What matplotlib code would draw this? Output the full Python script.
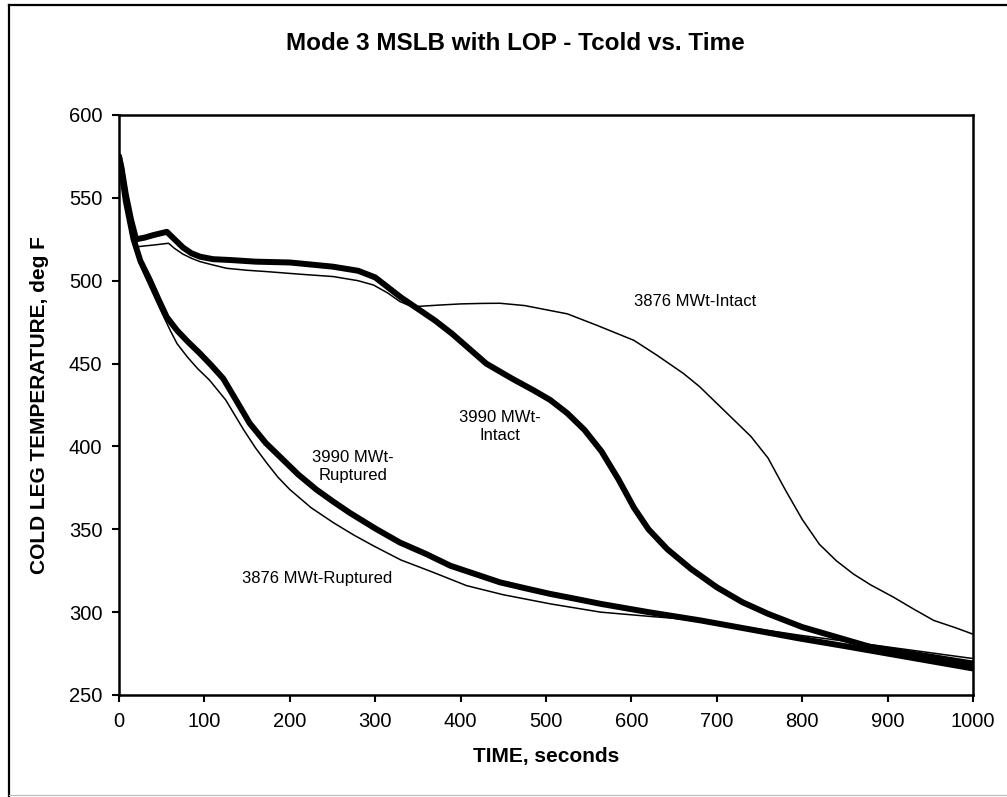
import matplotlib
matplotlib.use("Agg")
import matplotlib.pyplot as plt
from matplotlib.lines import Line2D

plt.rcParams['font.family'] = ['Liberation Sans', 'DejaVu Sans']

# ---- data ----
t_3990_intact = [0, 3, 8, 14, 20, 30, 40, 56, 65, 75, 85, 95, 110, 130, 160, 200, 250, 280, 300,
                 315, 330, 350, 370, 390, 410, 430, 460, 485, 505, 525, 545, 565, 585, 603, 620,
                 642, 670, 700, 730, 760, 800, 840, 880, 940, 1000]
T_3990_intact = [575, 568, 552, 537, 525, 526, 527.5, 529.5, 525, 520, 516.5, 514.5, 513, 512.5,
                 511.5, 511, 508.5, 506, 502, 496, 490, 483, 476, 468, 459, 450, 441, 434, 428,
                 420, 410, 397, 380, 363, 350, 338, 326, 315, 306, 299, 291, 285, 279, 274, 269]

t_3876_intact = [0, 3, 8, 14, 22, 30, 40, 58, 65, 75, 85, 95, 110, 126, 150, 173, 210, 251, 280,
                 298, 315, 329, 340, 350, 375, 400, 425, 446, 475, 500, 525, 560, 603, 630, 661,
                 680, 700, 720, 740, 760, 780, 800, 820, 840, 860, 880, 907, 930, 954, 980, 1000]
T_3876_intact = [572, 566, 550, 535, 520.5, 521, 521.5, 522.6, 519.5, 516, 513.5, 511.5, 509.5,
                 507.5, 506.3, 505.5, 504, 502.5, 500, 497.4, 492.5, 487.4, 485, 484.5, 485.3,
                 486, 486.3, 486.4, 485, 482.5, 480, 473, 464, 455, 444, 436, 426, 416, 406, 393,
                 374, 356, 341, 331, 323, 316.5, 309, 302, 295, 290.5, 286.7]

t_3990_rupt = [0, 3, 8, 17, 25, 36, 46, 56, 68, 80, 95, 108, 122, 137, 153, 172, 192, 210, 231,
               250, 270, 300, 329, 360, 388, 420, 446, 475, 505, 535, 564, 620, 681, 740, 798,
               850, 900, 950, 1000]
T_3990_rupt = [575, 566, 548, 525, 512, 500.5, 489, 478, 470, 463.5, 456, 449, 441, 428, 414, 402,
               392, 383, 374, 367, 360, 350.5, 342, 335, 328, 322.5, 318, 314.5, 311, 308, 305,
               300, 295, 289.5, 284, 279.5, 275, 270.5, 266]

t_3876_rupt = [0, 3, 8, 17, 25, 36, 48, 60, 68, 80, 92, 106, 125, 146, 160, 173, 186, 200, 225,
               251, 275, 298, 330, 368, 407, 450, 505, 564, 620, 681, 740, 798, 850, 900, 950, 1000]
T_3876_rupt = [570, 562, 545, 522, 509, 496.5, 483, 470, 462, 454, 447, 440, 428, 410, 399, 390,
               381.5, 374, 363, 354, 346.5, 340, 331.5, 324, 316, 310.5, 305, 300, 297.5, 295,
               290.5, 286, 282.5, 279, 275.5, 272]

x_ticks = [0, 100, 200, 300, 400, 500, 600, 700, 800, 900, 1000]
y_ticks = [250, 300, 350, 400, 450, 500, 550, 600]

labels = ["3876 MWt-Intact", "3990 MWt-\nIntact", "3990 MWt-\nRuptured", "3876 MWt-Ruptured"]
label_pos = [(675, 487.5), (446, 412), (274, 388), (232, 320)]

title = "Mode 3 MSLB with LOP - Tcold vs. Time"
xlabel = "TIME, seconds"
ylabel = "COLD LEG TEMPERATURE, deg F"

# ---- figure ----
fig = plt.figure(figsize=(10.07, 7.97), dpi=100)
ax = fig.add_axes([119 / 1007, 1 - 695 / 797, (973 - 119) / 1007, (695 - 115) / 797])

thin = dict(color='black', lw=1.1, solid_joinstyle='round', solid_capstyle='round')
thick = dict(color='black', lw=4.3, solid_joinstyle='round', solid_capstyle='round')
ax.plot(t_3876_rupt, T_3876_rupt, **thin)
ax.plot(t_3876_intact, T_3876_intact, **thin)
ax.plot(t_3990_rupt, T_3990_rupt, **thick)
ax.plot(t_3990_intact, T_3990_intact, **thick)

for txt, (x, y) in zip(labels, label_pos):
    ax.text(x, y, txt, ha='center', va='center', fontsize=12, linespacing=1.25)

ax.set_xlim(0, 1000)
ax.set_ylim(250, 600)
ax.set_xticks(x_ticks)
ax.set_yticks(y_ticks)
ax.tick_params(direction='out', length=5, width=1.5, labelsize=14.5, pad=7)
for s in ax.spines.values():
    s.set_linewidth(1.8)

ax.set_xlabel(xlabel, fontsize=15, fontweight='bold', labelpad=12)
ax.set_ylabel(ylabel, fontsize=15, fontweight='bold', labelpad=14)

fig.text(515 / 1007, 1 - 44 / 797, title, ha='center', va='center', fontsize=17.5, fontweight='bold')

# outer frame (top and left visible, faint bottom)
fig.add_artist(Line2D([9 / 1007, 1.0], [1 - 5 / 797, 1 - 5 / 797], transform=fig.transFigure,
                      color='black', lw=1.6))
fig.add_artist(Line2D([9 / 1007, 9 / 1007], [1 - 5 / 797, 0.0], transform=fig.transFigure,
                      color='black', lw=1.6))
fig.add_artist(Line2D([9 / 1007, 1.0], [1 - 795 / 797, 1 - 795 / 797], transform=fig.transFigure,
                      color='#bbbbbb', lw=0.8))

fig.savefig("out.png", dpi=100)
